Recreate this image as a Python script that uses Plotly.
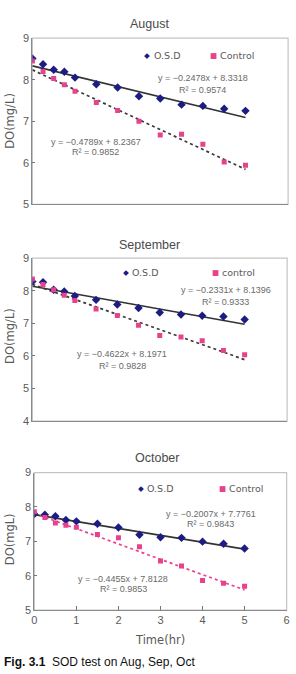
import numpy as np
import plotly.graph_objects as go

# ---------------- data ----------------
time_hr = [0, 0.25, 0.5, 0.75, 1, 1.5, 2, 2.5, 3, 3.5, 4, 4.5, 5]

aug_osd = [8.51, 8.37, 8.24, 8.19, 8.05, 7.89, 7.81, 7.60, 7.55, 7.40, 7.37, 7.30, 7.25]
aug_ctrl = [8.45, 8.20, 8.03, 7.88, 7.72, 7.45, 7.26, 7.00, 6.67, 6.69, 6.45, 6.02, 5.94]
sep_osd = [8.28, 8.26, 8.03, 7.98, 7.84, 7.72, 7.58, 7.47, 7.33, 7.27, 7.23, 7.21, 7.12]
sep_ctrl = [8.36, 8.19, 8.03, 7.86, 7.70, 7.44, 7.24, 6.94, 6.63, 6.58, 6.47, 6.17, 6.04]
oct_osd = [7.79, 7.77, 7.73, 7.62, 7.58, 7.51, 7.40, 7.19, 7.12, 7.10, 6.99, 6.93, 6.79]
oct_ctrl = [7.86, 7.69, 7.53, 7.47, 7.41, 7.20, 7.10, 6.84, 6.43, 6.28, 5.86, 5.78, 5.69]

# trendline coefficients (slope, intercept, R^2)
aug_osd_fit = (-0.2478, 8.3318, 0.9574)
aug_ctrl_fit = (-0.4789, 8.2367, 0.9852)
sep_osd_fit = (-0.2331, 8.1396, 0.9333)
sep_ctrl_fit = (-0.4622, 8.1971, 0.9828)
oct_osd_fit = (-0.2007, 7.7761, 0.9843)
oct_ctrl_fit = (-0.4455, 7.8128, 0.9853)

months = ["August", "September", "October"]
ctrl_names = ["Control", "control", "Control"]
y_titles = ["DO(mg/L)", "DO(mg/L)", "DO(mgL)"]
x_ticks = [0, 1, 2, 3, 4, 5, 6]
x_title = "Time(hr)"
caption_bold = "Fig. 3.1"
caption_rest = "SOD test on Aug, Sep, Oct"

# ---------------- style ----------------
W, H = 296, 674
OSD_COLOR = "#1c1c84"
CTRL_COLOR = "#e8418d"
TEXT_GRAY = "#5a5a5a"
FONT = "Liberation Sans, Arial, DejaVu Sans"


def px_x(px):
    return px / W


def px_y(py):
    return 1 - py / H


panels = [
    dict(osd=aug_osd, ctrl=aug_ctrl, fo=aug_osd_fit, fc=aug_ctrl_fit,
         xl=30, xr=291, yt=32.7, yb=202, yr=[5, 9], ctrl_line="#3a3a3a",
         title_xy=(150, 18), ytitle_y=117,
         leg=((2.58, 8.57), (4.12, 8.57)),
         eq_o=(4.0, 8.05, 7.76), eq_c=(1.49, 6.51, 6.25), xlabels=False),
    dict(osd=sep_osd, ctrl=sep_ctrl, fo=sep_osd_fit, fc=sep_ctrl_fit,
         xl=30, xr=290, yt=256.7, yb=422.7, yr=[4, 9], ctrl_line="#3a3a3a",
         title_xy=(150, 243), ytitle_y=336,
         leg=((2.08, 8.55), (4.18, 8.55)),
         eq_o=(4.55, 8.03, 7.64), eq_c=(2.12, 6.07, 5.68), xlabels=False),
    dict(osd=oct_osd, ctrl=oct_ctrl, fo=oct_osd_fit, fc=oct_ctrl_fit,
         xl=32, xr=289.5, yt=475, yb=615, yr=[5, 9], ctrl_line=CTRL_COLOR,
         title_xy=(157, 460), ytitle_y=543,
         leg=((2.41, 8.54), (4.35, 8.54)),
         eq_o=(4.20, 7.80, 7.49), eq_c=(2.12, 5.91, 5.60), xlabels=True),
]

fig = go.Figure()
layout = dict(
    width=W, height=H,
    margin=dict(l=0, r=0, t=0, b=0),
    paper_bgcolor="white", plot_bgcolor="white",
    showlegend=False,
    font=dict(family=FONT, color=TEXT_GRAY, size=11),
)
annotations = []
shapes = []
t = np.array(time_hr)

for i, p in enumerate(panels):
    n = "" if i == 0 else str(i + 1)
    xa, ya = "x" + n, "y" + n
    # trendlines
    for fit, col, dash, w in ((p["fo"], "#333333", "solid", 1.6),
                              (p["fc"], p["ctrl_line"], "dot", 1.7)):
        fig.add_trace(go.Scatter(
            x=t, y=fit[0] * t + fit[1], mode="lines",
            line=dict(color=col, width=w, dash=dash),
            xaxis=xa, yaxis=ya, hoverinfo="skip"))
    fig.add_trace(go.Scatter(
        x=time_hr, y=p["osd"], mode="markers", name="O.S.D",
        marker=dict(symbol="diamond", size=6.5, color=OSD_COLOR),
        xaxis=xa, yaxis=ya))
    fig.add_trace(go.Scatter(
        x=time_hr, y=p["ctrl"], mode="markers", name=ctrl_names[i],
        marker=dict(symbol="square", size=5, color=CTRL_COLOR),
        xaxis=xa, yaxis=ya))

    layout["xaxis" + n] = dict(
        domain=[px_x(p["xl"]), px_x(p["xr"])], range=[0, 6], anchor=ya,
        tickvals=x_ticks, ticktext=[str(v) for v in x_ticks],
        showticklabels=p["xlabels"],
        ticks="inside" if p["xlabels"] else "", ticklen=4, tickcolor="#777",
        showgrid=False, zeroline=False, showline=True, linecolor="#8a8a8a",
        linewidth=1.2, tickfont=dict(size=11, color=TEXT_GRAY), fixedrange=True)
    layout["yaxis" + n] = dict(
        domain=[px_y(p["yb"]), px_y(p["yt"])], range=p["yr"], dtick=1,
        anchor=xa, ticks="inside", ticklen=3, tickcolor="#777",
        showgrid=False, zeroline=False, showline=True, linecolor="#8a8a8a",
        linewidth=1.2, tickfont=dict(size=11, color=TEXT_GRAY), fixedrange=True)
    # light frame
    shapes.append(dict(type="rect", xref="paper", yref="paper",
                       x0=px_x(p["xl"]), x1=px_x(p["xr"]),
                       y0=px_y(p["yb"]), y1=px_y(p["yt"]),
                       line=dict(color="#c4c4c4", width=1.2), layer="below"))
    # title
    annotations.append(dict(text=months[i], xref="paper", yref="paper",
                            x=px_x(p["title_xy"][0]), y=px_y(p["title_xy"][1]),
                            showarrow=False, xanchor="center", yanchor="middle",
                            font=dict(size=12.5, color="#4a4a4a", family=FONT)))
    # y title
    annotations.append(dict(text=y_titles[i], xref="paper", yref="paper",
                            x=px_x(7), y=px_y(p["ytitle_y"]), textangle=-90,
                            showarrow=False, xanchor="center", yanchor="middle",
                            font=dict(size=11.5, color=TEXT_GRAY,
                                      family="DejaVu Sans")))
    # legend (glyph + text entries)
    (lox, loy), (lcx, lcy) = p["leg"]
    for gx, gy, glyph, gcol, label in ((lox, loy, "◆", OSD_COLOR, "O.S.D"),
                                       (lcx, lcy, "■", CTRL_COLOR, ctrl_names[i])):
        annotations.append(dict(
            text=glyph, xref=xa, yref=ya, x=gx, y=gy, showarrow=False,
            xanchor="left", yanchor="middle",
            font=dict(size=7.5, color=gcol, family="DejaVu Sans")))
        annotations.append(dict(
            text=label, xref=xa, yref=ya, x=gx + 0.23, y=gy, showarrow=False,
            xanchor="left", yanchor="middle",
            font=dict(size=9.5, color=TEXT_GRAY, family="DejaVu Sans")))
    # equations
    for fit, (ex, ey, ry) in ((p["fo"], p["eq_o"]), (p["fc"], p["eq_c"])):
        annotations.append(dict(
            text=f"y = −{abs(fit[0]):.4f}x + {fit[1]:.4f}", xref=xa, yref=ya,
            x=ex, y=ey, showarrow=False, xanchor="center", yanchor="middle",
            font=dict(size=9, color="#6a6a6a", family=FONT)))
        annotations.append(dict(
            text=f"R² = {fit[2]:.4f}", xref=xa, yref=ya,
            x=ex, y=ry, showarrow=False, xanchor="center", yanchor="middle",
            font=dict(size=9, color="#6a6a6a", family=FONT)))

annotations.append(dict(text=x_title, xref="paper", yref="paper",
                        x=px_x(160), y=px_y(645), showarrow=False,
                        xanchor="center", yanchor="middle",
                        font=dict(size=11.5, color=TEXT_GRAY, family="DejaVu Sans")))
annotations.append(dict(text=f"<b>{caption_bold}</b>  {caption_rest}",
                        xref="paper", yref="paper", x=px_x(-1), y=px_y(668),
                        showarrow=False, xanchor="left", yanchor="middle",
                        font=dict(size=12, color="#111", family=FONT)))

layout["annotations"] = annotations
layout["shapes"] = shapes
fig.update_layout(**layout)
fig.write_html("out.html")
